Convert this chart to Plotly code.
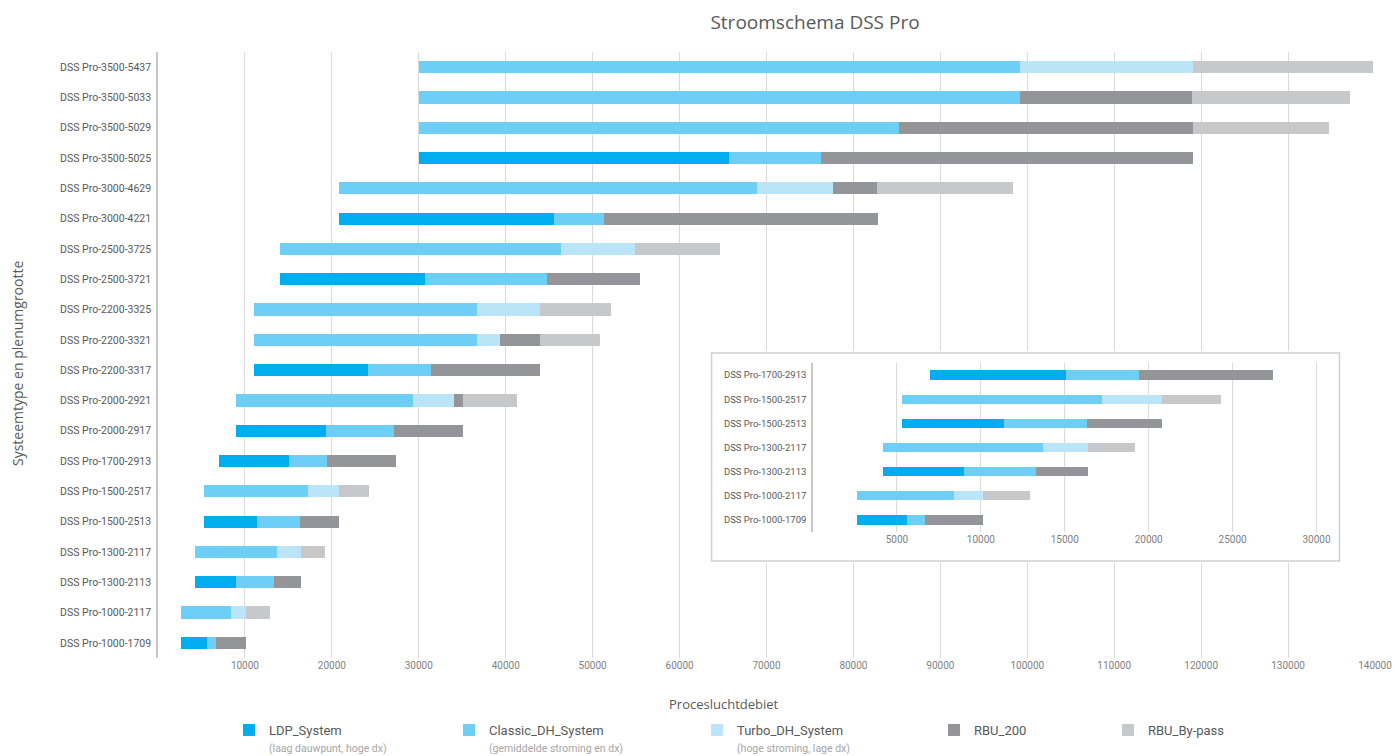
import plotly.graph_objects as go

categories = ["DSS Pro-3500-5437", "DSS Pro-3500-5033", "DSS Pro-3500-5029", "DSS Pro-3500-5025",
              "DSS Pro-3000-4629", "DSS Pro-3000-4221", "DSS Pro-2500-3725", "DSS Pro-2500-3721",
              "DSS Pro-2200-3325", "DSS Pro-2200-3321", "DSS Pro-2200-3317", "DSS Pro-2000-2921",
              "DSS Pro-2000-2917", "DSS Pro-1700-2913", "DSS Pro-1500-2517", "DSS Pro-1500-2513",
              "DSS Pro-1300-2117", "DSS Pro-1300-2113", "DSS Pro-1000-2117", "DSS Pro-1000-1709"]
start = [30000, 30000, 30000, 30000, 20800, 20800, 14000, 14000, 11000, 11000,
         11000, 9000, 9000, 7000, 5300, 5300, 4200, 4200, 2600, 2600]
ldp_system = [0, 0, 0, 35700, 0, 24700, 0, 16700, 0, 0,
              13200, 0, 10300, 8100, 0, 6100, 0, 4800, 0, 3000]
classic_dh = [69200, 69200, 55200, 10600, 48100, 5800, 32400, 14000, 25700, 25700,
              7200, 20300, 7900, 4300, 11900, 4900, 9500, 4300, 5800, 1100]
turbo_dh = [19900, 0, 0, 0, 8700, 0, 8500, 0, 7200, 2600,
            0, 4700, 0, 0, 3600, 0, 2700, 0, 1700, 0]
rbu_200 = [0, 19700, 33900, 42800, 5150, 31500, 0, 10800, 0, 4600,
           12500, 1100, 7900, 8000, 0, 4500, 0, 3100, 0, 3400]
rbu_bypass = [20700, 18200, 15600, 0, 15650, 0, 9700, 0, 8200, 6900,
              0, 6200, 0, 0, 3500, 0, 2800, 0, 2800, 0]

series_names = ["LDP_System", "Classic_DH_System", "Turbo_DH_System", "RBU_200", "RBU_By-pass"]
series_notes = ["(laag dauwpunt, hoge dx)", "(gemiddelde stroming en dx)", "(hoge stroming, lage dx)", "", ""]
series_values = [ldp_system, classic_dh, turbo_dh, rbu_200, rbu_bypass]
colors = ["#00AEEF", "#6DCFF6", "#BAE5F9", "#939598", "#C7C8CA"]

main_ticks = [10000, 20000, 30000, 40000, 50000, 60000, 70000, 80000, 90000,
              100000, 110000, 120000, 130000, 140000]
inset_ticks = [5000, 10000, 15000, 20000, 25000, 30000]
n_inset = 7

LABEL_FONT = "Liberation Sans Narrow, Roboto, sans-serif"
TITLE_FONT = "Open Sans, sans-serif"
GRID = "#d9d9d9"

fig = go.Figure()

# main chart: invisible offset + stacked segments
fig.add_trace(go.Bar(y=categories, x=start, orientation="h",
                     marker=dict(color="rgba(0,0,0,0)", line=dict(width=0)),
                     showlegend=False, hoverinfo="skip", width=0.4))
legend_ids = ["legend", "legend2", "legend3", "legend4", "legend5"]
for name, note, vals, col, lg in zip(series_names, series_notes, series_values, colors, legend_ids):
    label = name
    if note:
        label = name + "<br><span style='font-size:10.5px;color:#a6a6a6'>" + note + "</span>"
    fig.add_trace(go.Bar(y=categories, x=vals, orientation="h", name=label,
                         marker=dict(color=col, line=dict(width=0)), width=0.4, legend=lg))

# frame subplot for the inset box
fig.add_trace(go.Scatter(x=[], y=[], xaxis="x2", yaxis="y2", showlegend=False, hoverinfo="skip"))

# inset chart
inset_cats = categories[-n_inset:]
fig.add_trace(go.Bar(y=inset_cats, x=start[-n_inset:], orientation="h",
                     marker=dict(color="rgba(0,0,0,0)", line=dict(width=0)),
                     showlegend=False, hoverinfo="skip", width=0.38, xaxis="x3", yaxis="y3"))
for name, vals, col in zip(series_names, series_values, colors):
    fig.add_trace(go.Bar(y=inset_cats, x=vals[-n_inset:], orientation="h", name=name,
                         marker=dict(color=col, line=dict(width=0)), width=0.38,
                         xaxis="x3", yaxis="y3", showlegend=False))

fig.add_shape(type="rect", xref="x2", yref="y2", x0=0, x1=1, y0=0, y1=1,
              fillcolor="white", line=dict(color="#cfcfcf", width=1.5), layer="below")

legend_px = [229, 449, 697, 934, 1108]
legend_common = dict(orientation="v", yanchor="top", y=1 - 715 / 756, yref="container",
                     xanchor="left", xref="container",
                     bgcolor="rgba(0,0,0,0)", valign="top", tracegroupgap=0,
                     font=dict(family=LABEL_FONT, size=13, color="#595959"))
layout_legends = {}
for lg, lx in zip(legend_ids, legend_px):
    layout_legends[lg] = dict(legend_common, x=lx / 1396)

fig.update_layout(
    width=1396, height=756,
    margin=dict(l=158, r=21, t=52, b=98, autoexpand=False),
    barmode="stack",
    plot_bgcolor="white", paper_bgcolor="white",
    font=dict(family=LABEL_FONT, color="#595959"),
    title=dict(text="Stroomschema DSS Pro", x=815 / 1396, xref="container", xanchor="center",
               y=1 - 22 / 756, yref="container", yanchor="middle",
               font=dict(family=TITLE_FONT, size=19, color="#595959")),
    xaxis=dict(domain=[0, 1], range=[0, 140000], tickvals=main_ticks, tickformat="d", showgrid=True,
               gridcolor=GRID, gridwidth=1, zeroline=False, showline=False, ticks="",
               tickfont=dict(size=10, color="#7f7f7f"), anchor="y", automargin=False),
    yaxis=dict(domain=[0, 1], categoryorder="array", categoryarray=categories,
               autorange="reversed", showline=True, linecolor="#c8c8c8", linewidth=1.5,
               ticks="", showgrid=False, tickfont=dict(size=10.5, color="#595959"), anchor="x",
               ticklabelstandoff=3, automargin=False),
    xaxis2=dict(domain=[0.4528, 0.9729], range=[-0.004, 1.004], visible=False, anchor="y2",
                automargin=False),
    yaxis2=dict(domain=[0.1568, 0.5066], range=[-0.01, 1.01], visible=False, anchor="x2",
                automargin=False),
    xaxis3=dict(domain=[0.5382, 0.9630], range=[0, 30800], tickvals=inset_ticks, tickformat="d",
                showgrid=True, gridcolor=GRID, zeroline=False, showline=False, ticks="",
                tickfont=dict(size=10, color="#7f7f7f"), anchor="y3", automargin=False),
    yaxis3=dict(domain=[0.2079, 0.4868], categoryorder="array", categoryarray=inset_cats,
                autorange="reversed", showline=True, linecolor="#c8c8c8", linewidth=1.5,
                ticks="", showgrid=False, tickfont=dict(size=9.5, color="#595959"), anchor="x3",
                ticklabelstandoff=3, automargin=False),
    annotations=[
        dict(text="Procesluchtdebiet", xref="paper", yref="paper", x=(724 - 158) / 1217,
             y=(658 - 704) / 606, xanchor="center", yanchor="middle", showarrow=False,
             font=dict(family=TITLE_FONT, size=13, color="#595959")),
        dict(text="Systeemtype en plenumgrootte", xref="paper", yref="paper", x=(17 - 158) / 1217,
             y=(658 - 364) / 606, xanchor="center", yanchor="middle", showarrow=False,
             textangle=-90, font=dict(family=TITLE_FONT, size=14, color="#595959")),
    ],
    **layout_legends,
)

fig.write_html("out.html", config={"displayModeBar": False},
               post_script="document.body.style.margin='0px';document.body.style.overflow='hidden';")
